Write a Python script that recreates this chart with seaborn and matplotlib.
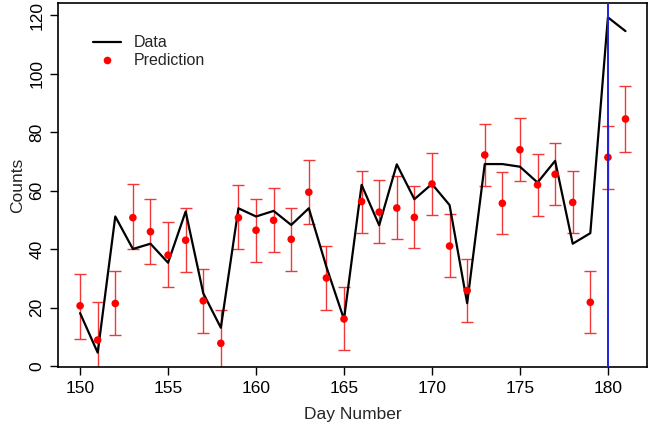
import matplotlib
matplotlib.use("Agg")
import matplotlib.pyplot as plt
import seaborn as sns
import pandas as pd
from matplotlib.lines import Line2D

days = list(range(150, 182))
data_counts = [18.2, 4.7, 51.2, 40.1, 41.9, 35.4, 52.9, 25.0, 13.2, 54.0,
               51.2, 53.1, 48.3, 54.0, 34.0, 16.1, 62.0, 48.2, 69.0, 57.1,
               62.3, 55.1, 21.6, 69.1, 69.1, 68.2, 62.8, 70.2, 41.9, 45.5,
               119.2, 114.5]
pred_days = list(range(150, 182))
pred_mean = [20.7, 9.0, 21.5, 50.8, 46.0, 38.0, 43.1, 22.4, 7.9, 50.8,
             46.5, 49.9, 43.4, 59.5, 30.2, 16.2, 56.3, 52.7, 54.1, 50.9,
             62.3, 41.1, 25.9, 72.2, 55.7, 74.0, 62.0, 65.6, 56.0, 21.9,
             71.4, 84.5]
pred_upper = [31.7, 22.1, 32.5, 62.2, 57.3, 49.3, 54.0, 33.4, 19.1, 62.1,
              57.3, 60.9, 54.1, 70.4, 41.0, 27.1, 66.8, 63.7, 64.9, 61.7,
              73.0, 51.9, 36.8, 82.9, 66.3, 84.8, 72.4, 76.3, 66.6, 32.5,
              82.2, 95.8]
pred_lower = [9.5, -4.0, 10.6, 40.0, 35.1, 27.1, 32.2, 11.4, -3.0, 40.2,
              35.6, 39.1, 32.6, 48.7, 19.4, 5.5, 45.5, 42.1, 43.4, 40.5,
              51.6, 30.6, 15.2, 61.6, 45.2, 63.4, 51.4, 55.0, 45.6, 11.5,
              60.7, 73.3]
cutoff_day = 180
x_ticks = [150, 155, 160, 165, 170, 175, 180]
y_ticks = [0, 20, 40, 60, 80, 100, 120]

sns.set_theme(style="white")
plt.rcParams['font.family'] = ['Liberation Sans', 'DejaVu Sans']

fig = plt.figure(figsize=(6.49, 4.34), dpi=100)
ax = fig.add_axes([0.0898, 0.1537, 0.9076, 0.8387])

df_data = pd.DataFrame({"day": days, "count": data_counts})
df_pred = pd.DataFrame({"day": pred_days, "mean": pred_mean,
                        "lo": pred_lower, "hi": pred_upper})

ax.errorbar(df_pred["day"], df_pred["mean"],
            yerr=[df_pred["mean"] - df_pred["lo"], df_pred["hi"] - df_pred["mean"]],
            fmt="none", ecolor="#f03838", elinewidth=1.0, capsize=4.2,
            capthick=1.0, zorder=2)
sns.lineplot(data=df_data, x="day", y="count", color="black", linewidth=1.6,
             ax=ax, zorder=3)
sns.scatterplot(data=df_pred, x="day", y="mean", color="#ff0000", s=30,
                edgecolor="none", ax=ax, zorder=4)
ax.axvline(cutoff_day, color="#2020e0", linewidth=1.4, zorder=5)

ax.set_xlim(148.76, 182.24)
ax.set_ylim(-0.3, 124)
ax.set_xticks(x_ticks)
ax.set_yticks(y_ticks)
ax.set_xticklabels([str(t) for t in x_ticks], fontsize=12.5)
ax.set_yticklabels([str(t) for t in y_ticks], fontsize=12.5, rotation=90,
                   va="center")
ax.tick_params(axis="both", direction="out", length=6, width=1.0,
               colors="black", bottom=True, left=True, pad=4)
for sp in ax.spines.values():
    sp.set_visible(True)
    sp.set_color("black")
    sp.set_linewidth(1.2)
ax.set_xlabel("Day Number", fontsize=12.5, labelpad=8)
ax.set_ylabel("Counts", fontsize=12.5, labelpad=3)

handles = [Line2D([0], [0], color="black", linewidth=1.6),
           Line2D([0], [0], marker="o", color="none", markerfacecolor="#ff0000",
                  markeredgecolor="none", markersize=5.5)]
ax.legend(handles, ["Data", "Prediction"], loc="upper left",
          bbox_to_anchor=(0.035, 0.952), frameon=False, fontsize=11.5,
          handlelength=1.75, handletextpad=0.8, labelspacing=0.2)

fig.savefig("out.png", dpi=100)
